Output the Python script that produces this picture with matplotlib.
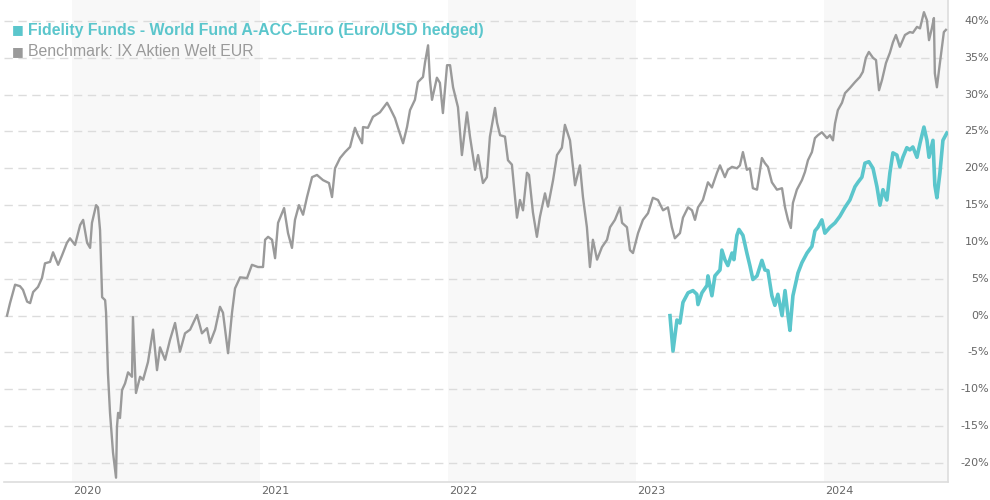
import matplotlib
matplotlib.use("Agg")
import matplotlib.pyplot as plt
import matplotlib.transforms as mtransforms

# ---- data (decimal year, cumulative performance in %) ----
bench_t = [2019.654, 2019.670, 2019.697, 2019.723, 2019.739, 2019.761, 2019.777, 2019.793, 2019.819, 2019.840,
           2019.856, 2019.883, 2019.899, 2019.926, 2019.947, 2019.973, 2019.989, 2020.016, 2020.043, 2020.059,
           2020.080, 2020.096, 2020.106, 2020.128, 2020.138, 2020.149, 2020.160, 2020.176, 2020.181, 2020.191,
           2020.202, 2020.218, 2020.234, 2020.239, 2020.245, 2020.255, 2020.266, 2020.282, 2020.298, 2020.319,
           2020.324, 2020.340, 2020.362, 2020.378, 2020.404, 2020.431, 2020.452, 2020.468, 2020.495, 2020.521,
           2020.548, 2020.574, 2020.601, 2020.628, 2020.665, 2020.691, 2020.718, 2020.734, 2020.761, 2020.787,
           2020.803, 2020.830, 2020.851, 2020.867, 2020.894, 2020.931, 2020.957, 2020.989, 2021.016, 2021.027,
           2021.043, 2021.064, 2021.080, 2021.096, 2021.128, 2021.149, 2021.170, 2021.186, 2021.207, 2021.229,
           2021.250, 2021.277, 2021.303, 2021.335, 2021.367, 2021.383, 2021.399, 2021.426, 2021.452, 2021.479,
           2021.505, 2021.521, 2021.543, 2021.548, 2021.574, 2021.601, 2021.638, 2021.676, 2021.691, 2021.718,
           2021.734, 2021.761, 2021.782, 2021.798, 2021.824, 2021.840, 2021.867, 2021.878, 2021.894, 2021.904,
           2021.915, 2021.941, 2021.957, 2021.973, 2021.995, 2022.011, 2022.027, 2022.053, 2022.074, 2022.101,
           2022.117, 2022.144, 2022.160, 2022.186, 2022.207, 2022.223, 2022.250, 2022.261, 2022.277, 2022.303,
           2022.319, 2022.340, 2022.367, 2022.383, 2022.399, 2022.420, 2022.431, 2022.452, 2022.473, 2022.489,
           2022.516, 2022.532, 2022.559, 2022.580, 2022.606, 2022.622, 2022.649, 2022.676, 2022.702, 2022.718,
           2022.739, 2022.755, 2022.771, 2022.793, 2022.819, 2022.846, 2022.862, 2022.888, 2022.915, 2022.926,
           2022.952, 2022.968, 2022.984, 2023.011, 2023.037, 2023.064, 2023.090, 2023.117, 2023.144, 2023.170,
           2023.191, 2023.207, 2023.234, 2023.250, 2023.277, 2023.298, 2023.314, 2023.330, 2023.356, 2023.383,
           2023.404, 2023.431, 2023.447, 2023.473, 2023.489, 2023.511, 2023.537, 2023.553, 2023.569, 2023.590,
           2023.606, 2023.622, 2023.644, 2023.670, 2023.686, 2023.702, 2023.723, 2023.750, 2023.777, 2023.793,
           2023.809, 2023.824, 2023.835, 2023.856, 2023.883, 2023.899, 2023.915, 2023.936, 2023.952, 2023.968,
           2023.989, 2024.016, 2024.032, 2024.048, 2024.059, 2024.074, 2024.096, 2024.112, 2024.138, 2024.165,
           2024.191, 2024.207, 2024.223, 2024.239, 2024.261, 2024.277, 2024.293, 2024.309, 2024.330, 2024.351,
           2024.367, 2024.383, 2024.404, 2024.431, 2024.457, 2024.473, 2024.495, 2024.511, 2024.532, 2024.548,
           2024.559, 2024.574, 2024.585, 2024.590, 2024.601, 2024.612, 2024.628, 2024.638, 2024.649]
bench_v = [0.0, 1.7, 4.2, 4.0, 3.5, 1.9, 1.7, 3.2, 3.9, 5.1,
           7.1, 7.3, 8.6, 6.9, 8.2, 9.9, 10.5, 9.6, 12.3, 13.0,
           9.9, 9.2, 12.6, 15.0, 14.7, 11.6, 2.5, 2.1, 0.4, -7.8,
           -13.2, -18.6, -22.0, -15.1, -13.2, -13.9, -10.1, -9.2, -7.7, -8.3,
           -0.2, -10.5, -8.3, -8.7, -6.3, -1.9, -7.4, -4.3, -6.0, -3.3,
           -1.0, -4.9, -2.4, -1.9, 0.1, -2.4, -1.7, -3.7, -1.9, 1.2,
           0.4, -5.1, 0.4, 3.7, 5.2, 5.1, 6.9, 6.6, 6.6, 10.3,
           10.7, 10.3, 7.8, 12.6, 14.6, 11.2, 9.2, 13.0, 15.0, 13.7,
           16.1, 18.8, 19.1, 18.4, 18.0, 16.1, 20.0, 21.4, 22.2, 22.9,
           25.5, 24.5, 23.4, 25.6, 25.5, 27.0, 27.6, 28.9, 28.2, 26.8,
           25.5, 23.4, 25.6, 27.9, 29.3, 31.7, 32.4, 34.4, 36.7, 32.0,
           29.3, 32.3, 31.6, 27.5, 34.0, 34.0, 31.0, 28.3, 21.8, 27.6,
           24.3, 19.8, 21.8, 18.0, 18.8, 24.3, 28.2, 26.2, 24.5, 24.3,
           21.1, 20.5, 13.3, 15.7, 14.3, 19.4, 19.1, 14.0, 10.7, 13.4,
           16.6, 14.8, 18.4, 21.8, 22.8, 25.9, 23.8, 17.7, 20.4, 16.1,
           12.0, 6.6, 10.3, 7.6, 9.3, 10.3, 12.0, 13.0, 14.7, 12.6,
           12.0, 8.9, 8.5, 11.2, 13.0, 13.9, 16.0, 15.7, 14.3, 14.7,
           12.0, 10.5, 11.2, 13.3, 14.7, 14.3, 13.0, 14.7, 15.7, 18.1,
           17.4, 19.4, 20.4, 18.8, 19.8, 20.2, 20.0, 20.4, 22.2, 19.8,
           20.0, 17.3, 17.1, 21.4, 20.7, 20.2, 18.1, 17.1, 17.3, 14.7,
           13.0, 11.9, 15.3, 17.1, 18.4, 19.5, 21.1, 22.2, 24.1, 24.5,
           24.9, 24.1, 24.5, 23.8, 26.1, 27.9, 28.9, 30.2, 30.9, 31.7,
           32.4, 33.1, 35.0, 35.8, 35.0, 34.7, 30.6, 32.0, 34.3, 35.7,
           37.1, 38.1, 36.5, 38.1, 38.5, 38.4, 39.2, 39.0, 41.2, 40.1,
           37.4, 39.0, 40.4, 32.9, 31.0, 33.3, 36.5, 38.5, 38.8]

fund_t = [2023.181, 2023.197, 2023.218, 2023.234, 2023.250, 2023.277, 2023.303, 2023.324, 2023.330, 2023.351,
          2023.378, 2023.383, 2023.404, 2023.420, 2023.447, 2023.457, 2023.473, 2023.489, 2023.511, 2023.521,
          2023.537, 2023.548, 2023.569, 2023.590, 2023.606, 2023.622, 2023.644, 2023.670, 2023.686, 2023.702,
          2023.723, 2023.739, 2023.755, 2023.777, 2023.793, 2023.809, 2023.819, 2023.835, 2023.862, 2023.883,
          2023.910, 2023.936, 2023.952, 2023.968, 2023.989, 2024.005, 2024.032, 2024.059, 2024.085, 2024.112,
          2024.138, 2024.165, 2024.181, 2024.202, 2024.218, 2024.239, 2024.261, 2024.282, 2024.298, 2024.314,
          2024.335, 2024.351, 2024.367, 2024.388, 2024.404, 2024.420, 2024.441, 2024.457, 2024.473, 2024.495,
          2024.511, 2024.532, 2024.548, 2024.559, 2024.580, 2024.590, 2024.601, 2024.617, 2024.633, 2024.654]
fund_v = [0.0, -4.8, -0.6, -1.0, 1.8, 3.1, 3.4, 2.9, 1.5, 3.1,
          4.1, 5.4, 2.7, 5.4, 6.2, 8.9, 7.6, 6.8, 8.5, 7.6,
          10.9, 11.7, 10.9, 8.5, 6.8, 4.9, 5.4, 7.5, 6.2, 6.1,
          2.7, 1.4, 2.9, 0.0, 3.4, 0.0, -2.0, 2.7, 5.8, 7.2,
          8.5, 9.4, 11.5, 12.0, 13.0, 11.2, 12.0, 12.6, 13.5, 14.7,
          15.7, 17.5, 18.1, 18.8, 20.7, 20.9, 20.0, 17.5, 15.0, 17.1,
          15.7, 19.4, 22.1, 21.8, 20.2, 21.5, 22.8, 22.5, 22.9, 21.5,
          23.4, 25.6, 23.8, 21.5, 23.8, 17.7, 16.0, 19.4, 23.8, 24.8]

fund_name = "Fidelity Funds - World Fund A-ACC-Euro (Euro/USD hedged)"
bench_name = "Benchmark: IX Aktien Welt EUR"
years = [2020, 2021, 2022, 2023, 2024]
y_ticks = [-20, -15, -10, -5, 0, 5, 10, 15, 20, 25, 30, 35, 40]

# ---- styling ----
TEAL = "#5BC6CC"
GREY = "#9A9A9A"
X0, X1 = 2019.638, 2024.660
Y0, Y1 = -22.585, 42.851

fig = plt.figure(figsize=(9.9, 5.0), dpi=100)
ax = fig.add_axes([4 / 990, 18 / 500, 944 / 990, 482 / 500])
ax.set_xlim(X0, X1)
ax.set_ylim(Y0, Y1)

# alternating year bands
for i, yr in enumerate(years):
    if i % 2 == 0:
        ax.axvspan(yr, min(yr + 1, X1), color="#F8F8F8", lw=0, zorder=0)

# dashed horizontal grid
for v in y_ticks:
    ax.axhline(v, color="#DCDCDC", lw=1.0, ls=(0, (6, 4)), zorder=1)

ax.plot(bench_t, bench_v, color=GREY, lw=1.7, zorder=3, solid_joinstyle="round")
ax.plot(fund_t, fund_v, color=TEAL, lw=2.6, zorder=4, solid_joinstyle="round")

for s in ["top", "left"]:
    ax.spines[s].set_visible(False)
for s in ["right", "bottom"]:
    ax.spines[s].set_color("#DDDDDD")
    ax.spines[s].set_linewidth(1.2)
ax.set_xticks([])
ax.set_yticks([])

# y tick labels at the right edge of the figure
ytrans = mtransforms.blended_transform_factory(fig.transFigure, ax.transData)
for v in y_ticks:
    ax.text(989 / 990, v, f"{v}%", transform=ytrans,
            ha="right", va="center", fontsize=8, color="#666666",
            family="DejaVu Sans", clip_on=False)

# year labels
for yr in years:
    ax.text(yr + 0.08, -0.019, str(yr), transform=ax.get_xaxis_transform(),
            ha="center", va="center", fontsize=8, color="#666666", family="DejaVu Sans")

# legend
fig.text(12 / 990, 1 - 30 / 500, "■", color=TEAL, fontsize=9, va="center", ha="left",
         family=["DejaVu Sans"])
fig.text(28 / 990, 1 - 30 / 500, fund_name, color=TEAL, fontsize=11.4, fontweight="bold",
         va="center", ha="left", family=["Liberation Sans", "DejaVu Sans"])
fig.text(12 / 990, 1 - 52 / 500, "■", color=GREY, fontsize=9, va="center", ha="left",
         family=["DejaVu Sans"])
fig.text(28 / 990, 1 - 52 / 500, bench_name, color=GREY, fontsize=11.4,
         va="center", ha="left", family=["Liberation Sans", "DejaVu Sans"])

fig.savefig("out.png", dpi=100, facecolor="white")
